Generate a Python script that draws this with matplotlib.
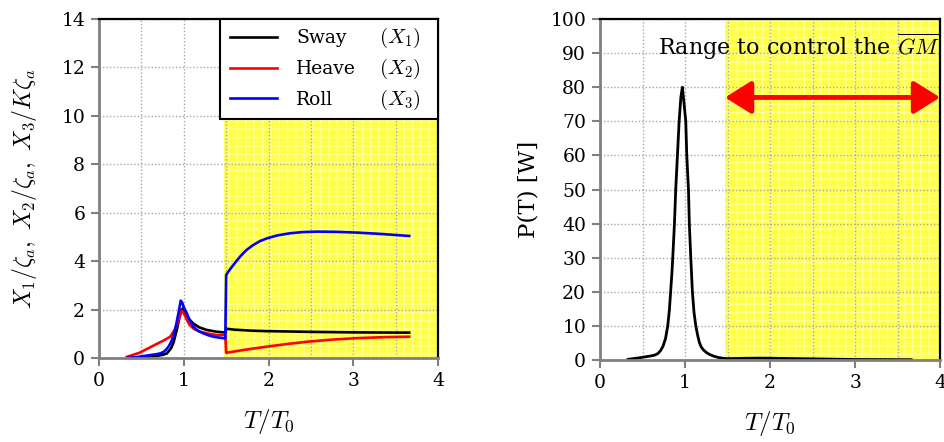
import matplotlib
matplotlib.use("Agg")
import matplotlib.pyplot as plt
from matplotlib.ticker import MultipleLocator

plt.rcParams["font.family"] = ["DejaVu Serif"]
plt.rcParams["mathtext.fontset"] = "cm"
plt.rcParams["hatch.linewidth"] = 1.0

# ---- response amplitude operators (left panel) ----
sway_t = [0.33, 0.5, 0.6, 0.7, 0.75, 0.8, 0.85, 0.88, 0.92, 0.95, 0.975, 0.99, 1.02,
          1.06, 1.11, 1.18, 1.27, 1.38, 1.49, 1.5, 1.6, 1.8, 1.98, 2.5, 3.0, 3.5, 3.66]
sway_x = [0.0, 0.02, 0.05, 0.1, 0.13, 0.19, 0.4, 0.65, 1.2, 1.7, 2.0, 2.05, 1.85,
          1.62, 1.43, 1.27, 1.16, 1.09, 1.05, 1.21, 1.17, 1.13, 1.11, 1.08, 1.06, 1.05, 1.05]

heave_t = [0.33, 0.48, 0.58, 0.68, 0.76, 0.84, 0.9, 0.94, 0.975, 1.0, 1.04, 1.07, 1.12,
           1.19, 1.3, 1.39, 1.49, 1.5, 1.56, 1.7, 1.98, 2.2, 2.45, 2.75, 3.04, 3.35, 3.66]
heave_x = [0.05, 0.22, 0.4, 0.58, 0.72, 0.88, 1.2, 1.6, 1.95, 1.85, 1.55, 1.36, 1.2,
           1.09, 1.0, 0.95, 0.95, 0.22, 0.25, 0.33, 0.47, 0.57, 0.67, 0.76, 0.82, 0.86, 0.88]

roll_t = [0.33, 0.45, 0.6, 0.68, 0.72, 0.76, 0.79, 0.82, 0.85, 0.88, 0.91, 0.94, 0.964,
          0.98, 1.0, 1.035, 1.07, 1.113, 1.17, 1.23, 1.29, 1.35, 1.42, 1.49,
          1.5, 1.54, 1.585, 1.62, 1.66, 1.7, 1.74, 1.8, 1.85, 1.9, 1.98, 2.1,
          2.25, 2.4, 2.57, 2.8, 3.04, 3.3, 3.5, 3.66]
roll_x = [0.0, 0.04, 0.12, 0.16, 0.19, 0.25, 0.34, 0.47, 0.66, 0.95, 1.38, 1.9, 2.37,
          2.3, 2.1, 1.85, 1.55, 1.29, 1.12, 1.02, 0.94, 0.88, 0.84, 0.81,
          3.43, 3.64, 3.84, 4.0, 4.17, 4.32, 4.46, 4.62, 4.73, 4.83, 4.94, 5.06,
          5.15, 5.2, 5.22, 5.21, 5.18, 5.13, 5.08, 5.04]

# ---- generated power (right panel) ----
power_t = [0.33, 0.45, 0.55, 0.6, 0.647, 0.68, 0.71, 0.74, 0.77, 0.796, 0.815, 0.83,
           0.845, 0.855, 0.865, 0.875, 0.89, 0.91, 0.93, 0.95, 0.968, 0.985, 1.008,
           1.02, 1.04, 1.05, 1.067, 1.086, 1.105, 1.126, 1.15, 1.17, 1.19, 1.215,
           1.25, 1.29, 1.34, 1.4, 1.45, 1.5, 1.7, 1.9, 2.2, 2.6, 3.0, 3.66]
power_w = [0.2, 0.6, 1.0, 1.2, 1.47, 1.9, 2.7, 4.0, 6.3, 10.0, 14.5, 20.0,
           25.5, 30.0, 35.0, 40.0, 50.0, 60.0, 70.0, 77.0, 80.0, 76.0, 70.0,
           60.0, 50.0, 40.0, 30.0, 20.0, 14.0, 10.0, 7.0, 5.0, 3.8, 3.0,
           2.2, 1.6, 1.1, 0.7, 0.5, 0.4, 0.5, 0.55, 0.45, 0.3, 0.15, 0.1]

# T/T0 range in which the metacentric height is controlled
gm_range = (1.47, 4.0)
arrow_level = 77

names = ["Sway", "Heave", "Roll"]
symbols = [r"$(X_1)$", r"$(X_2)$", r"$(X_3)$"]
xlabel = r"$T/T_0$"

fig = plt.figure(figsize=(9.45, 4.42), dpi=100)
ax1 = fig.add_axes([0.1048, 0.19, 0.3587, 0.767])
ax2 = fig.add_axes([0.635, 0.1855, 0.3598, 0.7715])

GRID = "#a8a8a8"
SPINE_GREY = "#808080"


def style_axes(ax, ymax, ystep):
    ax.set_xlim(0, 4)
    ax.set_ylim(0, ymax)
    ax.xaxis.set_major_locator(MultipleLocator(1))
    ax.xaxis.set_minor_locator(MultipleLocator(0.5))
    ax.yaxis.set_major_locator(MultipleLocator(ystep))
    ax.grid(True, which="both", axis="x", color=GRID, linestyle=(0, (1, 1.5)), lw=1.0)
    ax.grid(True, which="major", axis="y", color=GRID, linestyle=(0, (1, 1.5)), lw=1.0)
    ax.tick_params(which="minor", length=0)
    ax.tick_params(which="major", direction="out", length=6, width=1.5,
                   color=SPINE_GREY, labelsize=13.5, pad=4)
    for side in ("left", "bottom"):
        ax.spines[side].set_color(SPINE_GREY)
        ax.spines[side].set_linewidth(2)
    for side in ("top", "right"):
        ax.spines[side].set_color("black")
        ax.spines[side].set_linewidth(1.6)
    ax.axvspan(*gm_range, facecolor="#ffff48", edgecolor="#ffff9c",
               hatch="++", lw=0, zorder=0)
    ax.set_axisbelow(True)
    ax.set_xlabel(xlabel, fontsize=18, labelpad=12)


# left panel
style_axes(ax1, 14, 2)
l1, = ax1.plot(sway_t, sway_x, color="black", lw=1.9)
l2, = ax1.plot(heave_t, heave_x, color="red", lw=1.9)
l3, = ax1.plot(roll_t, roll_x, color="blue", lw=1.9)
ax1.set_ylabel(r"$X_1/\zeta_a,\ X_2/\zeta_a,\ X_3/K\zeta_a$", fontsize=17, labelpad=16)

leg = ax1.legend([l1, l2, l3], names, loc="upper right",
                 bbox_to_anchor=(0.357, 0.0, 0.643, 1.0), mode="expand",
                 fontsize=13.5, frameon=True, fancybox=False, edgecolor="black",
                 framealpha=1, borderaxespad=0, handlelength=2.5,
                 handletextpad=1.0, labelspacing=0.68, borderpad=0.55)
leg.get_frame().set_linewidth(1.5)
leg.set_zorder(5)

# right panel
style_axes(ax2, 100, 10)
ax2.plot(power_t, power_w, color="black", lw=2.0)
ax2.set_ylabel("P(T) [W]", fontsize=16.5, labelpad=8)
ax2.annotate("", xy=(gm_range[1], arrow_level), xytext=(gm_range[0], arrow_level),
             arrowprops=dict(arrowstyle="<|-|>,head_length=0.8,head_width=0.5",
                             mutation_scale=20, color="red", lw=3.5,
                             shrinkA=0, shrinkB=0),
             annotation_clip=False)
ax2.text(gm_range[1], 92, r"Range to control the $\overline{GM}$",
         ha="right", va="center", fontsize=16)

# second legend column: the displacement symbols, on the same baselines
fig.canvas.draw()
sym_x = ax1.transAxes.transform((0.825, 0))[0]
for txt, sym in zip(leg.get_texts(), symbols):
    _, base_y = txt.get_transform().transform(txt.get_position())
    fig.text(sym_x, base_y, sym, transform=None, ha="left", va="baseline",
             fontsize=15, zorder=10)

fig.savefig("out.png", dpi=100)
